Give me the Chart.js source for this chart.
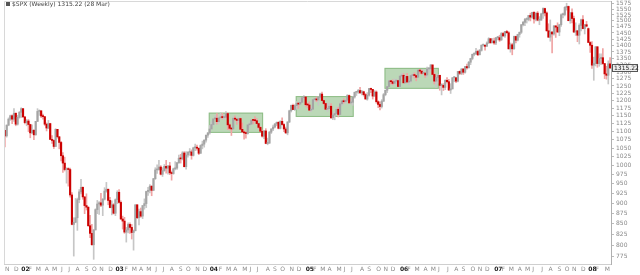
<!DOCTYPE html>
<html lang="en">
<head>
<meta charset="UTF-8">
<title>$SPX Weekly</title>
<script src="https://cdn.jsdelivr.net/npm/chart.js"></script>
<style>
  html, body { margin: 0; padding: 0; background: #fff; }
  #wrap { position: relative; width: 640px; height: 275px; }
</style>
</head>
<body>
<div id="wrap"><canvas id="myChart"></canvas></div>
<script>
// weekly bars, first week ends 2 Nov 2001, last one 28 Mar 2008
const opens = [
  1104,1087,1120,1139,1150,1139,1158,1123,1145,
  1161,1173,1146,1128,1133,1122,1096,1104,1090,1132,1164,1166,1149,1147,1123,1111,1125,1076,1073,1055,1107,1084,1067,1028,1007,989,990,989,921,848,853,864,909,929,941,916,894,890,845,827,801,835,884,898,901,895,910,931,936,907,889,896,
  875,909,928,902,861,856,830,835,848,841,829,833,896,864,879,868,894,899,930,933,944,933,964,988,989,996,976,986,998,993,999,980,978,991,993,1008,1021,1019,1036,997,1030,1038,1039,1029,1051,1053,1050,1035,1058,1062,1074,1089,
  1096,1108,1122,1140,1142,1131,1143,1146,1144,1145,1157,1121,1110,1108,1142,1139,1135,1141,1107,1099,1096,1094,1121,1123,1136,1135,1134,1125,1113,1101,1086,1102,1064,1065,1098,1108,1114,1124,1129,1110,1132,1122,1108,1096,1130,1166,1184,1170,1183,1191,1188,1194,1210,
  1212,1186,1185,1168,1171,1203,1205,1202,1211,1222,1200,1190,1171,1173,1181,1143,1152,1157,1171,1154,1189,1199,1196,1201,1217,1192,1194,1212,1228,1229,1234,1226,1230,1220,1205,1218,1241,1238,1215,1229,1196,1187,1180,1198,1220,1235,1248,1268,1265,1259,1267,1269,
  1248,1285,1288,1261,1284,1264,1267,1287,1289,1287,1281,1307,1303,1295,1296,1289,1311,1311,1326,1291,1267,1280,1288,1252,1252,1245,1270,1265,1236,1240,1279,1279,1267,1302,1295,1311,1299,1320,1315,1336,1350,1366,1369,1377,1364,1381,1401,1401,1397,1410,1427,1411,
  1418,1410,1431,1431,1422,1448,1438,1456,1451,1387,1403,1387,1436,1421,1444,1453,1484,1494,1506,1506,1523,1516,1536,1508,1533,1503,1503,1530,1553,1534,1459,1433,1454,1446,1479,1474,1454,1484,1526,1527,1558,1562,1501,1535,1510,1454,1459,1441,1481,1505,1468,1484,
  1468,1412,1401,1325,1331,1395,1331,1350,1353,1331,1293,1288,1330
];
const highs = [
  1104,1121,1143,1152,1153,1173,1159,1151,1164,
  1176,1173,1148,1138,1138,1123,1121,1106,1132,1173,1169,1166,1155,1147,1127,1135,1126,1088,1075,1109,1107,1085,1070,1037,1024,994,994,993,927,864,912,913,935,962,942,917,924,891,870,848,836,886,907,904,925,912,940,954,936,915,906,899,
  911,932,935,906,868,865,841,852,852,848,835,896,896,885,888,894,911,931,941,948,945,965,994,1002,1015,1000,994,1003,1015,1000,1009,985,993,1011,1009,1030,1032,1040,1040,1040,1040,1049,1045,1053,1062,1059,1050,1060,1071,1075,1089,1097,
  1119,1131,1140,1151,1157,1143,1159,1158,1152,1163,1159,1125,1112,1147,1150,1140,1146,1143,1127,1102,1099,1122,1128,1137,1137,1147,1141,1126,1116,1105,1103,1109,1080,1101,1109,1120,1125,1130,1131,1134,1143,1125,1114,1131,1168,1185,1188,1186,1197,1192,1206,1211,1217,
  1212,1192,1196,1179,1204,1209,1212,1212,1225,1229,1202,1191,1192,1191,1190,1159,1163,1179,1178,1192,1199,1206,1202,1220,1219,1206,1213,1229,1230,1238,1245,1235,1232,1224,1227,1242,1243,1238,1234,1233,1199,1196,1203,1224,1236,1249,1270,1269,1272,1275,1274,1271,
  1287,1295,1294,1286,1295,1275,1290,1293,1297,1288,1308,1310,1307,1310,1297,1318,1316,1327,1326,1295,1285,1291,1288,1258,1258,1272,1280,1273,1258,1280,1284,1281,1302,1304,1312,1312,1321,1329,1339,1351,1367,1372,1389,1382,1385,1403,1406,1404,1415,1431,1428,1428,
  1429,1432,1436,1441,1452,1453,1457,1461,1456,1410,1409,1438,1438,1445,1454,1485,1498,1511,1513,1523,1533,1537,1540,1534,1540,1518,1533,1556,1555,1539,1488,1504,1456,1480,1481,1492,1486,1530,1533,1561,1576,1564,1535,1552,1520,1492,1461,1488,1508,1523,1485,1498,
  1471,1416,1416,1355,1396,1396,1368,1368,1388,1331,1321,1341,1353
];
const lows = [
  1054,1083,1118,1135,1125,1132,1118,1120,1142,
  1144,1145,1124,1118,1100,1081,1094,1075,1089,1131,1151,1144,1139,1119,1102,1109,1076,1064,1049,1055,1080,1048,1013,981,985,952,944,915,847,776,852,834,901,924,910,874,883,843,817,800,769,835,874,872,891,869,908,928,896,888,871,873,
  869,899,900,860,837,827,807,828,827,814,789,833,862,847,865,862,885,889,920,926,919,932,962,978,987,974,970,984,979,976,975,960,976,988,989,1006,1007,1016,996,990,1024,1029,1018,1027,1043,1044,1031,1035,1048,1053,1068,1082,
  1092,1107,1118,1137,1123,1124,1140,1139,1138,1141,1106,1105,1088,1107,1135,1122,1128,1107,1097,1077,1080,1092,1113,1122,1124,1130,1123,1109,1099,1083,1078,1063,1060,1064,1094,1103,1111,1118,1108,1108,1120,1100,1094,1090,1128,1162,1170,1167,1171,1174,1187,1193,1204,
  1181,1176,1167,1163,1171,1196,1196,1184,1206,1199,1186,1171,1164,1170,1142,1137,1137,1155,1146,1154,1183,1191,1190,1197,1191,1188,1184,1208,1217,1224,1224,1219,1215,1205,1201,1215,1227,1205,1214,1191,1176,1169,1175,1196,1216,1227,1248,1257,1254,1254,1259,1248,
  1246,1280,1261,1258,1262,1254,1262,1281,1278,1268,1280,1295,1291,1291,1280,1282,1298,1302,1290,1257,1245,1260,1235,1219,1234,1237,1261,1234,1224,1239,1265,1262,1264,1290,1290,1291,1296,1310,1315,1327,1345,1360,1365,1361,1364,1378,1397,1382,1397,1408,1408,1410,
  1404,1403,1422,1416,1420,1437,1432,1449,1386,1374,1364,1386,1410,1418,1433,1448,1479,1480,1491,1500,1500,1511,1490,1500,1500,1484,1503,1510,1521,1457,1432,1417,1371,1441,1432,1452,1439,1477,1513,1521,1546,1500,1490,1492,1451,1440,1415,1406,1458,1467,1446,1475,
  1411,1373,1313,1270,1322,1317,1321,1327,1328,1276,1274,1257,1312
];
const closes = [
  1087,1120,1139,1150,1139,1158,1123,1145,1161,
  1173,1146,1128,1133,1122,1096,1104,1090,1132,1164,1166,1149,1147,1123,1111,1125,1076,1073,1055,1107,1084,1067,1028,1007,989,990,989,921,848,853,864,909,929,941,916,894,890,845,827,801,835,884,898,901,895,910,931,936,907,889,896,875,
  909,928,902,861,856,830,835,848,841,829,833,896,864,879,868,894,899,930,933,944,933,964,988,989,996,976,986,998,993,999,980,978,991,993,1008,1021,1019,1036,997,1030,1038,1039,1029,1051,1053,1050,1035,1058,1062,1074,1089,1096,
  1108,1122,1140,1142,1131,1143,1146,1144,1145,1157,1121,1110,1108,1142,1139,1135,1141,1107,1099,1096,1094,1121,1123,1136,1135,1134,1125,1113,1101,1086,1102,1064,1065,1098,1108,1114,1124,1129,1110,1132,1122,1108,1096,1130,1166,1184,1170,1183,1191,1188,1194,1210,1212,
  1186,1185,1168,1171,1203,1205,1202,1211,1222,1200,1190,1171,1173,1181,1143,1152,1157,1171,1154,1189,1199,1196,1201,1217,1192,1194,1212,1228,1229,1234,1226,1230,1220,1205,1218,1241,1238,1215,1229,1196,1187,1180,1198,1220,1235,1248,1268,1265,1259,1267,1269,1248,
  1285,1288,1261,1284,1264,1267,1287,1289,1287,1281,1307,1303,1295,1296,1289,1311,1311,1326,1291,1267,1280,1288,1252,1252,1245,1270,1265,1236,1240,1279,1279,1267,1302,1295,1311,1299,1320,1315,1336,1350,1366,1369,1377,1364,1381,1401,1401,1397,1410,1427,1411,1418,
  1410,1431,1431,1422,1448,1438,1456,1451,1387,1403,1387,1436,1421,1444,1453,1484,1494,1506,1506,1523,1516,1536,1508,1533,1503,1503,1530,1553,1534,1459,1433,1454,1446,1479,1474,1454,1484,1526,1527,1558,1562,1501,1535,1510,1454,1459,1441,1481,1505,1468,1484,1478,
  1412,1401,1325,1331,1395,1331,1350,1353,1331,1293,1288,1330,1315.22
];

// how many weekly bars fall in each month, and the label under its first bar
const weeksPerMonth = [
  5,4,
  4,4,5,4,5,4,4,5,4,4,5,4,
  5,4,4,4,5,4,4,5,4,5,4,4,
  5,4,4,5,4,4,5,4,4,5,4,5,
  4,4,4,5,4,4,5,4,5,4,4,5,
  4,4,5,4,4,5,4,4,5,4,4,5,
  4,4,5,4,4,5,4,5,4,4,5,4,
  4,5,4
];
const monthLabels = [
  'N','D',
  '02','F','M','A','M','J','J','A','S','O','N','D',
  '03','F','M','A','M','J','J','A','S','O','N','D',
  '04','F','M','A','M','J','J','A','S','O','N','D',
  '05','F','M','A','M','J','J','A','S','O','N','D',
  '06','F','M','A','M','J','J','A','S','O','N','D',
  '07','F','M','A','M','J','J','A','S','O','N','D',
  '08','F','M'
];
const yTicks = [775,800,825,850,875,900,925,950,975,1000,1025,1050,1075,1100,1125,1150,1175,1200,
  1225,1250,1275,1300,1325,1350,1375,1400,1425,1450,1475,1500,1525,1550,1575];

// shaded ranges: first week, last week, low, high
const boxes = [
  [113, 142, 1096, 1160],
  [161, 192, 1146, 1215],
  [210, 239, 1240, 1315]
];

const titleText = '$SPX (Weekly) 1315.22 (28 Mar)';
const lastText = '1315.22';

const weekLabels = [];
weeksPerMonth.forEach((n, m) => {
  for (let k = 0; k < n; k++) weekLabels.push(k === 0 ? monthLabels[m] : '');
});

const isUp = closes.map((c, i) => c >= opens[i]);
const FONT = 'DejaVu Sans';

const extras = {
  id: 'extras',
  beforeDatasetsDraw(chart) {
    const { ctx, scales: { x, y } } = chart;
    const half = (x.getPixelForValue(1) - x.getPixelForValue(0)) / 2;
    ctx.save();
    boxes.forEach(([a, b, lo, hi]) => {
      const x0 = x.getPixelForValue(a) - half;
      const x1 = x.getPixelForValue(b) + half;
      const y0 = y.getPixelForValue(hi);
      const y1 = y.getPixelForValue(lo);
      ctx.fillStyle = 'rgba(120,178,112,0.5)';
      ctx.fillRect(x0, y0, x1 - x0, y1 - y0);
      ctx.strokeStyle = 'rgba(110,170,100,0.6)';
      ctx.lineWidth = 1;
      ctx.strokeRect(x0 + 0.5, y0 + 0.5, x1 - x0 - 1, y1 - y0 - 1);
    });
    ctx.restore();
  },
  afterDraw(chart) {
    const { ctx, chartArea: a, scales: { y } } = chart;
    ctx.save();
    // frame on left and top
    ctx.strokeStyle = '#d8d8d8';
    ctx.lineWidth = 1;
    ctx.beginPath();
    ctx.moveTo(a.left + 0.5, a.bottom);
    ctx.lineTo(a.left + 0.5, a.top + 0.5);
    ctx.lineTo(a.right, a.top + 0.5);
    ctx.stroke();
    // title
    ctx.fillStyle = '#555';
    ctx.fillRect(a.left + 2, 2, 4, 4);
    ctx.font = '6px "' + FONT + '"';
    ctx.textBaseline = 'middle';
    ctx.fillStyle = '#444';
    ctx.fillText(titleText, a.left + 8, 4.5);
    // last price tag
    const py = Math.round(y.getPixelForValue(closes[closes.length - 1]));
    ctx.fillStyle = '#eeeeee';
    ctx.fillRect(a.right + 1, py - 4, 26, 8);
    ctx.strokeStyle = '#555';
    ctx.strokeRect(a.right + 1.5, py - 3.5, 25, 7);
    ctx.fillStyle = '#222';
    ctx.fillText(lastText, a.right + 3, py + 0.5);
    ctx.restore();
  }
};

const ctx = document.getElementById('myChart').getContext('2d');
const myChart = new Chart(ctx, {
  type: 'bar',
  data: {
    labels: weekLabels,
    datasets: [
      {
        label: 'body',
        data: opens.map((o, i) => [o, closes[i]]),
        backgroundColor: isUp.map(u => u ? '#a4a4a4' : '#cc0000'),
        barThickness: 1.5,
        minBarLength: 1,
        grouped: false,
        order: 0
      },
      {
        label: 'range',
        data: lows.map((l, i) => [l, highs[i]]),
        backgroundColor: isUp.map(u => u ? '#c6c6c6' : '#f0a4a4'),
        barThickness: 1,
        grouped: false,
        order: 1
      }
    ]
  },
  options: {
    responsive: true,
    maintainAspectRatio: false,
    animation: false,
    layout: { padding: { left: 4, top: 1, right: 0, bottom: 0 } },
    plugins: { legend: { display: false }, tooltip: { enabled: false } },
    scales: {
      x: {
        type: 'category',
        offset: true,
        grid: { display: false, drawTicks: false, tickLength: 0 },
        border: { color: '#cfcfcf' },
        afterFit(s) { s.height = 11; s.paddingLeft = 0; s.paddingRight = 0; },
        ticks: {
          autoSkip: false,
          maxRotation: 0,
          minRotation: 0,
          align: 'start',
          padding: 2,
          color: c => /\d/.test(c.tick.label) ? '#222' : '#8a8a8a',
          font: c => ({ family: FONT, size: 6, weight: /\d/.test(c.tick.label) ? 'bold' : 'normal' })
        }
      },
      y: {
        type: 'logarithmic',
        position: 'right',
        min: 759,
        max: 1586,
        bounds: 'data',
        afterBuildTicks(s) { s.ticks = yTicks.map(v => ({ value: v })); },
        afterFit(s) { s.width = 29; s.paddingTop = 0; s.paddingBottom = 0; },
        grid: { drawOnChartArea: false, tickLength: 3, color: '#bbb' },
        border: { color: '#b0b0b0' },
        ticks: {
          autoSkip: false,
          padding: 2,
          color: '#888',
          font: { family: FONT, size: 6 },
          callback: v => String(v)
        }
      }
    }
  },
  plugins: [extras]
});
</script>
</body>
</html>
